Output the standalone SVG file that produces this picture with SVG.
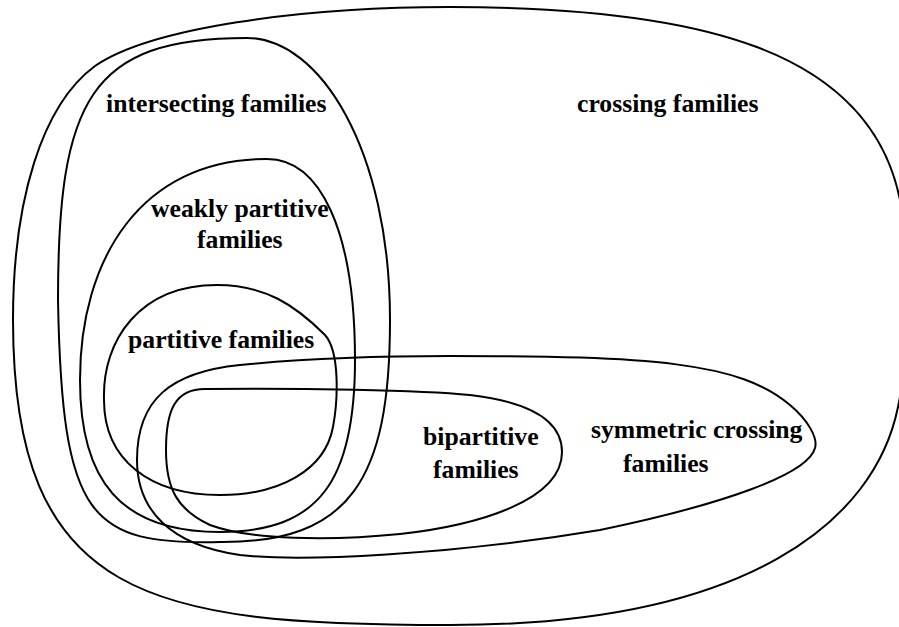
<svg xmlns="http://www.w3.org/2000/svg" width="899" height="627" viewBox="0 0 899 627">
<style>
.c{fill:none;stroke:#000;stroke-width:2}
.t{font-family:"Liberation Serif","Times New Roman",serif;font-weight:bold;font-size:25.7px;fill:#000}
</style>
<rect width="899" height="627" fill="#fff"/>
<g id="crossing">
<path class="c" d="M13,320 C13,200 42,105 95,66 C150,28 300,7 450,7 C700,7 870,50 900,200 C910,250 912,340 898,407 C875,520 750,625 450,625 C150,625 13,600 13,320 Z"/>
<text class="t" x="577" y="112">crossing families</text>
</g>
<g id="intersecting">
<path class="c" d="M58,300 C58,100 90,38 247,38 C320,38 390,150 390,320 C390,480 350,543 220,542 C90,545 62,520 58,300 Z"/>
<text class="t" x="106" y="112">intersecting families</text>
</g>
<g id="weakly">
<path class="c" d="M80,380 C80,260 140,159 267,159 C320,159 355,230 355,360 C355,480 320,532 220,532 C120,532 80,480 80,380 Z"/>
<text class="t" x="151" y="217">weakly partitive</text>
<text class="t" x="197" y="248">families</text>
</g>
<g id="partitive">
<path class="c" d="M104,400 C102,340 140,285 217,285 C265,285 295,305 325,335 C340,352 338,400 333,427 C325,470 280,495 220,495 C150,495 104,460 104,400 Z"/>
<text class="t" x="128" y="348">partitive families</text>
</g>
<g id="symmetric">
<path class="c" d="M137,460 C137,400 170,372 240,365 C310,358 380,356 450,356 C650,356 740,362 790,405 C808,420 818,438 815,448 C808,475 720,505 600,530 C450,555 300,562 240,555 C170,545 137,510 137,460 Z"/>
<text class="t" x="591" y="438">symmetric crossing</text>
<text class="t" x="623" y="472">families</text>
</g>
<g id="bipartitive">
<path class="c" d="M166,450 C166,410 175,389 205,389 C300,388 420,390 470,395 C530,402 562,420 562,452 C562,500 480,525 400,534 C330,541 250,540 210,525 C178,510 166,490 166,450 Z"/>
<text class="t" x="423" y="445">bipartitive</text>
<text class="t" x="433" y="478">families</text>
</g>
<g id="connectors"/>
</svg>
